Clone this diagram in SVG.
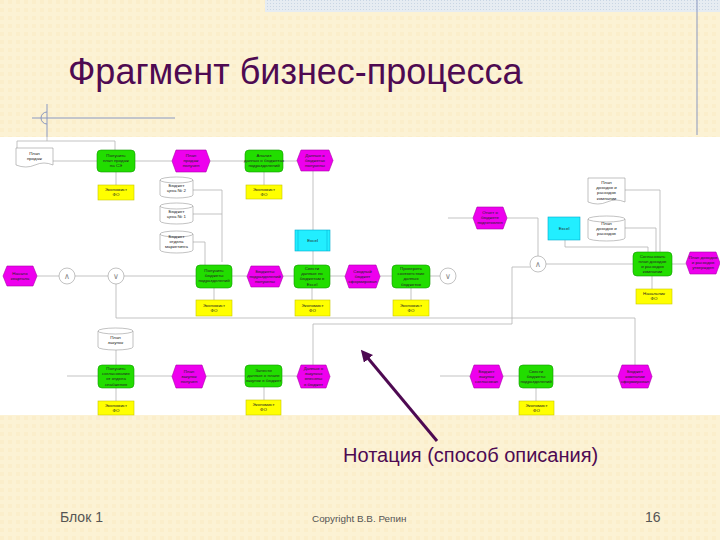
<svg xmlns="http://www.w3.org/2000/svg" width="720" height="540" viewBox="0 0 720 540">
<defs>
<style>
.g{fill:#22dd00;stroke:#119900;stroke-width:0.6}
.m{fill:#ee00ee;stroke:#aa00aa;stroke-width:0.6}
.y{fill:#ffff00;stroke:#c8c800;stroke-width:0.6}
.c{fill:#22eeff;stroke:#00aacc;stroke-width:0.6}
.w{fill:#ffffff;stroke:#999999;stroke-width:0.6}
.ln{fill:none;stroke:#b4b4b4;stroke-width:0.8}
.t{font-family:"Liberation Sans",Arial,sans-serif;font-size:4.4px;fill:#222;text-anchor:middle}
.gt{font-family:"DejaVu Sans",sans-serif;font-size:8px;fill:#888;text-anchor:middle}
.title{font-family:"Liberation Sans",Arial,sans-serif;font-size:36px;fill:#4e0a52}
.foot{font-family:"Liberation Sans",Arial,sans-serif;fill:#555}
</style>
<pattern id="bg" width="8" height="8" patternUnits="userSpaceOnUse">
<rect width="8" height="8" fill="#fcf2d4"/>
<rect width="4" height="4" fill="#fbeecb"/>
</pattern>
<pattern id="dots" width="3" height="3" patternUnits="userSpaceOnUse">
<rect width="3" height="3" fill="#e6ecf2"/>
<rect width="1" height="1" fill="#c9d6e4"/>
</pattern>
<marker id="ah" viewBox="0 0 10 10" refX="2" refY="5" markerWidth="4" markerHeight="4" orient="auto">
<path d="M0,0 L10,5 L0,10 Z" fill="#4e0a52"/>
</marker>
</defs>

<rect width="720" height="540" fill="url(#bg)"/>
<rect x="265" y="0" width="455" height="12" fill="url(#dots)"/>
<line x1="697" y1="0" x2="697" y2="135" stroke="#8a98c0" stroke-width="1"/>
<line x1="32" y1="118" x2="175" y2="118" stroke="#8a98c0" stroke-width="1"/>
<line x1="47" y1="104" x2="47" y2="137" stroke="#8a98c0" stroke-width="1"/>
<path d="M47,112 A6,6 0 0 0 47,124" fill="none" stroke="#8a98c0" stroke-width="1"/>
<text class="title" x="68" y="84">Фрагмент бизнес-процесса</text>

<rect x="0" y="137" width="720" height="278" fill="#ffffff"/>

<g id="connectors">
<path class="ln" d="M17,148 V141 H115 V150 M47,137 V141"/>
<path class="ln" d="M53,161 H97 M135,161 H172 M210,161 H245 M283,161 H297"/>
<path class="ln" d="M116,172 V185 M264,172 V185"/>
<path class="ln" d="M193,190 H222 M193,214 H222 M193,242 H205 M222,190 V262 M205,242 V265"/>
<path class="ln" d="M313,171 V230 M313,251 V265"/>
<path class="ln" d="M37,276 H59 M75,276 H108 M124,276 H196 M232,276 H247 M283,276 H294 M330,276 H345 M380,276 H392 M430,276 H440"/>
<path class="ln" d="M214,288 V300 M312,288 V300 M411,288 V300"/>
<path class="ln" d="M448,218 H473 M507,218 H538 V256"/>
<path class="ln" d="M546,264 H633 M672,264 H686 M652,276 V289"/>
<path class="ln" d="M625,190 H660 V252 M625,228 H656 V252 M565,240 V247 H648 V252"/>
<path class="ln" d="M116,284 V318 H635 V365"/>
<path class="ln" d="M530,267 H512 V324 H313 V365"/>
<path class="ln" d="M67,376 H98 M134,376 H172 M206,376 H245 M282,376 H297 M440,376 H470 M503,376 H519 M553,376 H618"/>
<path class="ln" d="M116,350 V365 M116,388 V401 M264,387 V400 M536,388 V401"/>
</g>

<g id="doc1"><path class="w" d="M16,148 H53 V165 Q44,161 35,165 T16,165 Z"/><text class="t" x="34.5" y="155"><tspan x="34.5">План</tspan><tspan x="34.5" dy="5.2">продаж</tspan></text></g>
<g id="green1"><rect class="g" x="97" y="150" width="38" height="22" rx="4"/><text class="t" y="157"><tspan x="116">Получить</tspan><tspan x="116" dy="5.2">план продаж</tspan><tspan x="116" dy="5.2">на СЭ</tspan></text></g>
<g id="yellow1"><rect class="y" x="98" y="185" width="36" height="15"/><text class="t" y="191"><tspan x="116">Экономист</tspan><tspan x="116" dy="5.2">ФО</tspan></text></g>
<g id="mag1"><polygon class="m" points="176,150 206,150 210,161 206,172 176,172 172,161"/><text class="t" y="157"><tspan x="191">План</tspan><tspan x="191" dy="5.2">продаж</tspan><tspan x="191" dy="5.2">получен</tspan></text></g>
<g id="cyl1"><path class="w" d="M160,180 A16.5,3 0 0 1 193,180 V195 A16.5,3 0 0 1 160,195 Z M160,180 A16.5,3 0 0 0 193,180"/><text class="t" y="187"><tspan x="176.5">Бюджет</tspan><tspan x="176.5" dy="5.2">цеха № 2</tspan></text></g>
<g id="cyl2"><path class="w" d="M160,206 A16.5,3 0 0 1 193,206 V221 A16.5,3 0 0 1 160,221 Z M160,206 A16.5,3 0 0 0 193,206"/><text class="t" y="213"><tspan x="176.5">Бюджет</tspan><tspan x="176.5" dy="5.2">цеха № 1</tspan></text></g>
<g id="cyl3"><path class="w" d="M160,234 A16.5,3 0 0 1 193,234 V250 A16.5,3 0 0 1 160,250 Z M160,234 A16.5,3 0 0 0 193,234"/><text class="t" y="238"><tspan x="176.5">Бюджет</tspan><tspan x="176.5" dy="5.2">отдела</tspan><tspan x="176.5" dy="5.2">маркетинга</tspan></text></g>
<g id="green2"><rect class="g" x="245" y="150" width="38" height="22" rx="4"/><text class="t" y="157"><tspan x="264">Анализ</tspan><tspan x="264" dy="5.2">данных о бюджетах</tspan><tspan x="264" dy="5.2">подразделений</tspan></text></g>
<g id="yellow2"><rect class="y" x="246" y="185" width="36" height="14"/><text class="t" y="190.5"><tspan x="264">Экономист</tspan><tspan x="264" dy="5.2">ФО</tspan></text></g>
<g id="mag2"><polygon class="m" points="301,150 329,150 333,160.5 329,171 301,171 297,160.5"/><text class="t" y="156.5"><tspan x="315">Данные о</tspan><tspan x="315" dy="5.2">бюджетах</tspan><tspan x="315" dy="5.2">получены</tspan></text></g>
<g id="excel1"><rect class="c" x="295" y="230" width="35" height="21"/><line x1="298" y1="230" x2="298" y2="251" stroke="#00aacc" stroke-width="0.5"/><line x1="327" y1="230" x2="327" y2="251" stroke="#00aacc" stroke-width="0.5"/><text class="t" x="312.5" y="242">Excel</text></g>
<g id="magReport"><polygon class="m" points="477,207 503,207 507,218 503,229 477,229 473,218"/><text class="t" y="213.5"><tspan x="490">Отчет о</tspan><tspan x="490" dy="5.2">бюджете</tspan><tspan x="490" dy="5.2">подготовлен</tspan></text></g>
<g id="excel2"><rect class="c" x="548" y="217" width="32" height="23"/><text class="t" x="564" y="230">Excel</text></g>
<g id="doc2"><path class="w" d="M588,178 H625 V202 Q616,198 607,202 T588,202 Z"/><text class="t" y="184"><tspan x="606.5">План</tspan><tspan x="606.5" dy="5.2">доходов и</tspan><tspan x="606.5" dy="5.2">расходов</tspan><tspan x="606.5" dy="5.2">компании</tspan></text></g>
<g id="cyl4"><path class="w" d="M588,219 A18.5,3 0 0 1 625,219 V238 A18.5,3 0 0 1 588,238 Z M588,219 A18.5,3 0 0 0 625,219"/><text class="t" y="225"><tspan x="606.5">План</tspan><tspan x="606.5" dy="5.2">доходов и</tspan><tspan x="606.5" dy="5.2">расходов</tspan></text></g>
<g id="green6"><rect class="g" x="633" y="252" width="39" height="24" rx="4"/><text class="t" y="257.5"><tspan x="652.5">Согласовать</tspan><tspan x="652.5" dy="5.2">план доходов</tspan><tspan x="652.5" dy="5.2">и расходов</tspan><tspan x="652.5" dy="5.2">компании</tspan></text></g>
<g id="mag6"><polygon class="m" points="690,252 716,252 720,263 716,274 690,274 686,263"/><text class="t" y="258.5"><tspan x="703">План доходов</tspan><tspan x="703" dy="5.2">и расходов</tspan><tspan x="703" dy="5.2">утвержден</tspan></text></g>
<g id="yellow6"><rect class="y" x="636" y="289" width="36" height="15"/><text class="t" y="295"><tspan x="654">Начальник</tspan><tspan x="654" dy="5.2">ФО</tspan></text></g>

<g id="magStart"><polygon class="m" points="7,266 33,266 37,276 33,286 7,286 3,276"/><text class="t" y="274.5"><tspan x="20">Начало</tspan><tspan x="20" dy="5.2">квартала</tspan></text></g>
<g id="gw1"><circle class="w" cx="67" cy="276" r="8"/><text class="gt" x="67" y="279">∧</text></g>
<g id="gw2"><circle class="w" cx="116" cy="276" r="8"/><text class="gt" x="116" y="279">∨</text></g>
<g id="green3"><rect class="g" x="196" y="265" width="36" height="23" rx="4"/><text class="t" y="272"><tspan x="214">Получить</tspan><tspan x="214" dy="5.2">бюджеты</tspan><tspan x="214" dy="5.2">подразделений</tspan></text></g>
<g id="yellow3"><rect class="y" x="196" y="300" width="36" height="16"/><text class="t" y="306.5"><tspan x="214">Экономист</tspan><tspan x="214" dy="5.2">ФО</tspan></text></g>
<g id="mag3"><polygon class="m" points="251,266 279,266 283,276.5 279,287 251,287 247,276.5"/><text class="t" y="272.5"><tspan x="265">Бюджеты</tspan><tspan x="265" dy="5.2">подразделений</tspan><tspan x="265" dy="5.2">получены</tspan></text></g>
<g id="green4"><rect class="g" x="294" y="265" width="36" height="23" rx="4"/><text class="t" y="270"><tspan x="312">Свести</tspan><tspan x="312" dy="5.2">данные по</tspan><tspan x="312" dy="5.2">бюджетам в</tspan><tspan x="312" dy="5.2">Excel</tspan></text></g>
<g id="yellow4"><rect class="y" x="295" y="300" width="35" height="16"/><text class="t" y="306.5"><tspan x="312.5">Экономист</tspan><tspan x="312.5" dy="5.2">ФО</tspan></text></g>
<g id="mag4"><polygon class="m" points="349,265 376,265 380,276.5 376,288 349,288 345,276.5"/><text class="t" y="272.5"><tspan x="362.5">Сводный</tspan><tspan x="362.5" dy="5.2">бюджет</tspan><tspan x="362.5" dy="5.2">сформирован</tspan></text></g>
<g id="green5"><rect class="g" x="392" y="265" width="38" height="23" rx="4"/><text class="t" y="270"><tspan x="411">Проверить</tspan><tspan x="411" dy="5.2">соответствие</tspan><tspan x="411" dy="5.2">данных</tspan><tspan x="411" dy="5.2">бюджетов</tspan></text></g>
<g id="yellow5"><rect class="y" x="393" y="300" width="36" height="16"/><text class="t" y="306.5"><tspan x="411">Экономист</tspan><tspan x="411" dy="5.2">ФО</tspan></text></g>
<g id="gw3"><circle class="w" cx="448" cy="276" r="8"/><text class="gt" x="448" y="279">∨</text></g>
<g id="gw4"><circle class="w" cx="538" cy="264" r="8"/><text class="gt" x="538" y="267">∧</text></g>

<g id="cyl5"><path class="w" d="M98,331 A17.5,3 0 0 1 133,331 V347 A17.5,3 0 0 1 98,347 Z M98,331 A17.5,3 0 0 0 133,331"/><text class="t" y="339"><tspan x="115.5">План</tspan><tspan x="115.5" dy="5.2">закупок</tspan></text></g>
<g id="green7"><rect class="g" x="98" y="365" width="36" height="23" rx="4"/><text class="t" y="370"><tspan x="116">Получить</tspan><tspan x="116" dy="5.2">согласование</tspan><tspan x="116" dy="5.2">от отдела</tspan><tspan x="116" dy="5.2">снабжения</tspan></text></g>
<g id="yellow7"><rect class="y" x="98" y="401" width="36" height="14"/><text class="t" y="407"><tspan x="116">Экономист</tspan><tspan x="116" dy="5.2">ФО</tspan></text></g>
<g id="mag7"><polygon class="m" points="176,365 202,365 206,376.5 202,388 176,388 172,376.5"/><text class="t" y="372.5"><tspan x="189">План</tspan><tspan x="189" dy="5.2">закупок</tspan><tspan x="189" dy="5.2">получен</tspan></text></g>
<g id="green8"><rect class="g" x="245" y="365" width="37" height="22" rx="4"/><text class="t" y="372"><tspan x="263.5">Занести</tspan><tspan x="263.5" dy="5.2">данные о плане</tspan><tspan x="263.5" dy="5.2">закупок в бюджет</tspan></text></g>
<g id="yellow8"><rect class="y" x="246" y="400" width="35" height="15"/><text class="t" y="406"><tspan x="263.5">Экономист</tspan><tspan x="263.5" dy="5.2">ФО</tspan></text></g>
<g id="mag8"><polygon class="m" points="301,365 326,365 330,376.5 326,388 301,388 297,376.5"/><text class="t" y="370"><tspan x="313.5">Данные о</tspan><tspan x="313.5" dy="5.2">закупках</tspan><tspan x="313.5" dy="5.2">внесены</tspan><tspan x="313.5" dy="5.2">в бюджет</tspan></text></g>
<g id="mag9"><polygon class="m" points="474,365 499,365 503,376.5 499,388 474,388 470,376.5"/><text class="t" y="372.5"><tspan x="486.5">Бюджет</tspan><tspan x="486.5" dy="5.2">закупок</tspan><tspan x="486.5" dy="5.2">согласован</tspan></text></g>
<g id="green9"><rect class="g" x="519" y="365" width="34" height="23" rx="4"/><text class="t" y="372.5"><tspan x="536">Свести</tspan><tspan x="536" dy="5.2">бюджеты</tspan><tspan x="536" dy="5.2">подразделений</tspan></text></g>
<g id="yellow9"><rect class="y" x="519" y="401" width="35" height="14"/><text class="t" y="407"><tspan x="536.5">Экономист</tspan><tspan x="536.5" dy="5.2">ФО</tspan></text></g>
<g id="mag10"><polygon class="m" points="622,365 648,365 652,376.5 648,388 622,388 618,376.5"/><text class="t" y="372.5"><tspan x="635">Бюджет</tspan><tspan x="635" dy="5.2">компании</tspan><tspan x="635" dy="5.2">сформирован</tspan></text></g>

<g id="notation">
<line x1="437" y1="441" x2="367" y2="357" stroke="#4e0a52" stroke-width="3" marker-end="url(#ah)"/>
<text x="343" y="462" font-family="'Liberation Sans',Arial,sans-serif" font-size="20" fill="#4e0a52">Нотация (способ описания)</text>
</g>

<text class="foot" x="60" y="522" font-size="14">Блок 1</text>
<text class="foot" x="312" y="522" font-size="9.9">Copyright В.В. Репин</text>
<text class="foot" x="645" y="522" font-size="14">16</text>
</svg>
